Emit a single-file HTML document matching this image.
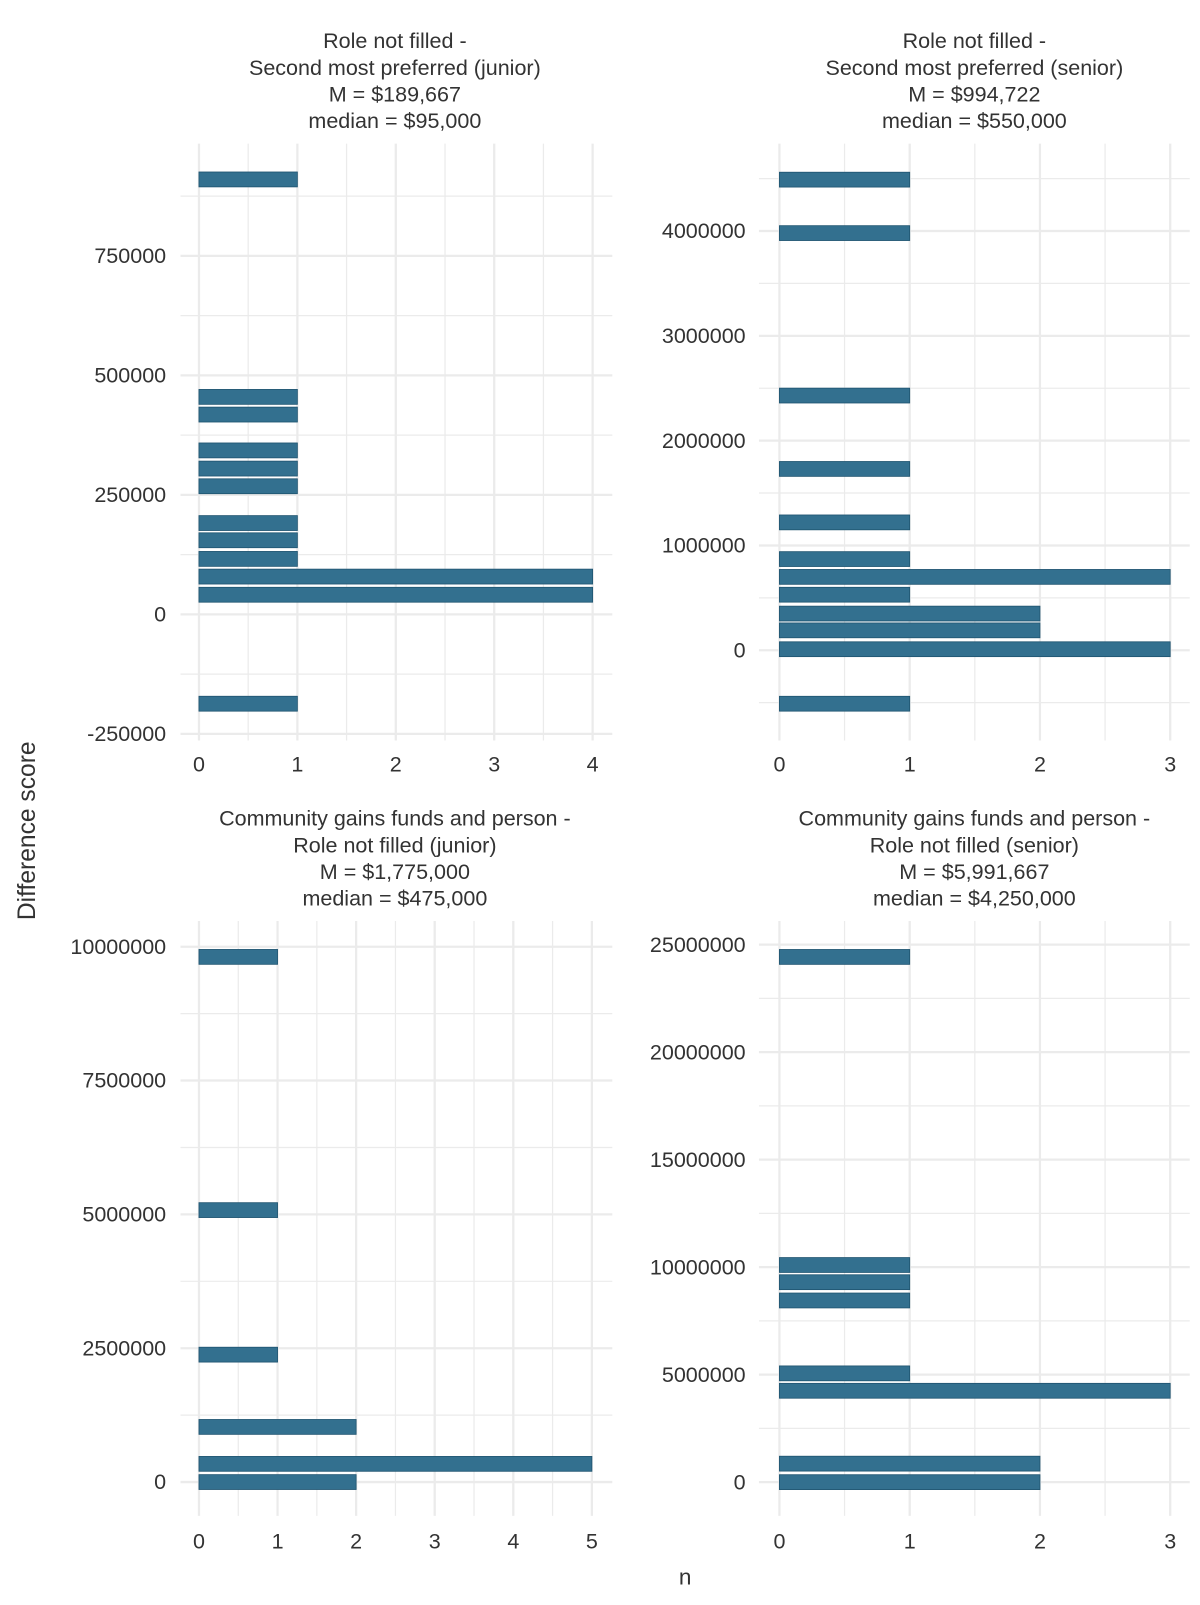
<!DOCTYPE html>
<html><head><meta charset="utf-8"><style>
body{margin:0;background:#fff;}
svg text{font-family:"Liberation Sans",sans-serif;fill:#333;}
</style></head><body>
<svg id="chart" width="1200" height="1600" viewBox="0 0 1170 1560" xmlns="http://www.w3.org/2000/svg">
<text x="34" y="810" font-size="24" text-anchor="middle" transform="rotate(-90 34 810)" fill="#222">Difference score</text>
<text x="668" y="1545" font-size="22" text-anchor="middle" fill="#222">n</text>
</svg>
<script>
// Panel 1 data
const p1Values=[910000,455000,418000,343000,305000,268000,191000,155000,116000,79000,41000,-187000];
const p1Counts=[1,1,1,1,1,1,1,1,1,4,4,1];
const p1YTicks=[750000,500000,250000,0,-250000];
const p1XTicks=[0,1,2,3,4];
// Panel 2 data
const p2Values=[4490000,3980000,2430000,1730000,1220000,870000,700000,530000,350000,190000,10000,-510000];
const p2Counts=[1,1,1,1,1,1,3,1,2,2,3,1];
const p2YTicks=[4000000,3000000,2000000,1000000,0];
const p2XTicks=[0,1,2,3];
// Panel 3 data
const p3Values=[9810000,5080000,2380000,1030000,340000,0];
const p3Counts=[1,1,1,2,5,2];
const p3YTicks=[10000000,7500000,5000000,2500000,0];
const p3XTicks=[0,1,2,3,4,5];
// Panel 4 data
const p4Values=[24430000,10100000,9300000,8450000,5060000,4250000,860000,0];
const p4Counts=[1,1,1,1,1,3,2,2];
const p4YTicks=[25000000,20000000,15000000,10000000,5000000,0];
const p4XTicks=[0,1,2,3];

const NS="http://www.w3.org/2000/svg";
const svg=document.getElementById('chart');
function mk(tag,attrs,parent){const e=document.createElementNS(NS,tag);for(const k in attrs)e.setAttribute(k,attrs[k]);(parent||svg).appendChild(e);return e;}

const panels=[
 {id:'p1',title:['Role not filled -','Second most preferred (junior)','M = $189,667','median = $95,000'],tx:385,ty:47,
  L:176,R:597,T:140,B:722,x0:-0.1875,x1:4.2,y0:-264000,y1:985000,bin:37600,minor:125000,
  vals:p1Values,cnt:p1Counts,yt:p1YTicks,xt:p1XTicks,lx:162,xly:752},
 {id:'p2',title:['Role not filled -','Second most preferred (senior)','M = $994,722','median = $550,000'],tx:950,ty:47,
  L:740,R:1160,T:140,B:722,x0:-0.157,x1:3.15,y0:-861000,y1:4834000,bin:171000,minor:500000,
  vals:p2Values,cnt:p2Counts,yt:p2YTicks,xt:p2XTicks,lx:727,xly:752},
 {id:'p3',title:['Community gains funds and person -','Role not filled (junior)','M = $1,775,000','median = $475,000'],tx:385,ty:805,
  L:176,R:597,T:898,B:1478,x0:-0.235,x1:5.26,y0:-632000,y1:10480000,bin:335000,minor:1250000,
  vals:p3Values,cnt:p3Counts,yt:p3YTicks,xt:p3XTicks,lx:162,xly:1510},
 {id:'p4',title:['Community gains funds and person -','Role not filled (senior)','M = $5,991,667','median = $4,250,000'],tx:950,ty:805,
  L:740,R:1160,T:898,B:1478,x0:-0.157,x1:3.15,y0:-1570000,y1:26100000,bin:835000,minor:2500000,
  vals:p4Values,cnt:p4Counts,yt:p4YTicks,xt:p4XTicks,lx:727,xly:1510}
];

panels.forEach(p=>{
 const g=mk('g',{});
 
 
 const X=v=>p.L+(v-p.x0)/(p.x1-p.x0)*(p.R-p.L);
 const Y=v=>p.B-(v-p.y0)/(p.y1-p.y0)*(p.B-p.T);
 const step=p.minor*2;
 for(let v=Math.ceil(p.y0/p.minor)*p.minor;v<=p.y1;v+=p.minor){
  const major=Math.abs(Math.round(v/step)*step-v)<1;
  mk('line',{x1:p.L,x2:p.R,y1:Y(v),y2:Y(v),stroke:'#ebebeb','stroke-width':major?2.2:1.2},g);
 }
 for(let v=Math.ceil(p.x0*2)/2;v<=p.x1;v+=0.5){
  const major=Math.abs(Math.round(v)-v)<0.01;
  mk('line',{x1:X(v),x2:X(v),y1:p.T,y2:p.B,stroke:'#ebebeb','stroke-width':major?2.2:1.2},g);
 }
 p.vals.forEach((v,i)=>{
  const hpx=(p.bin/(p.y1-p.y0))*(p.B-p.T);
  const r=mk('rect',{x:X(0),y:Y(v)-hpx/2+1.5,width:X(p.cnt[i])-X(0),height:hpx-3,fill:'#33708f',stroke:'#1f5470','stroke-width':0.8},g);
  
  
 });
 p.yt.forEach(v=>{
  const t=mk('text',{x:p.lx,y:Y(v)+7,'font-size':21,'text-anchor':'end',fill:'#444'},g);
  t.textContent=String(v);
  
  
 });
 p.xt.forEach(v=>{
  const t=mk('text',{x:X(v),y:p.xly,'font-size':21,'text-anchor':'middle',fill:'#444'},g);
  t.textContent=String(v);
  
  
 });
 p.title.forEach((s,i)=>{
  const t=mk('text',{x:p.tx,y:p.ty+i*26,'font-size':21,'text-anchor':'middle',fill:'#222'},g);
  t.textContent=s;
  
  
 });
});
</script>
</body></html>
